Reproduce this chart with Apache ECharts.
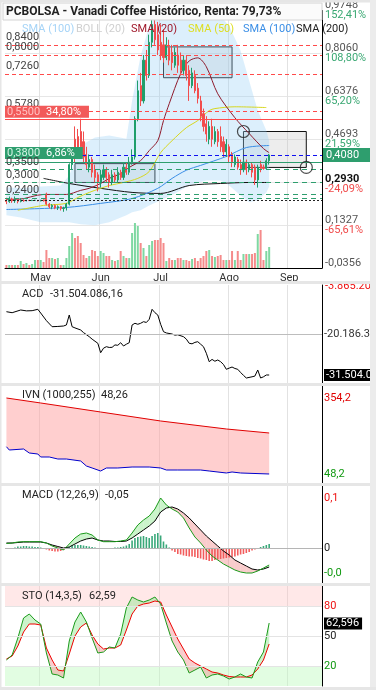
<!DOCTYPE html>
<html><head><meta charset="utf-8">
<script src="https://cdn.jsdelivr.net/npm/echarts@6/dist/echarts.min.js"></script>
<style>html,body{margin:0;padding:0;background:#fff}#c{width:376px;height:690px}</style>
</head><body><div id="c"></div>
<script>
// ---------- DATA ----------
const categories = Array.from({length: 111}, (_, i) => String(i));
const monthStarts = [12, 33, 54, 78, 99];
const monthNames = ['May', 'Jun', 'Jul', 'Ago', 'Sep'];

// [open, close, low, high]
const ohlc = [
[0.230,0.225,0.215,0.240],[0.225,0.235,0.220,0.245],[0.235,0.228,0.220,0.240],[0.228,0.232,0.220,0.245],[0.232,0.226,0.218,0.236],
[0.226,0.230,0.222,0.238],[0.230,0.228,0.224,0.234],[0.228,0.230,0.226,0.232],[0.230,0.229,0.227,0.232],[0.229,0.230,0.227,0.232],
[0.230,0.230,0.228,0.232],[0.230,0.228,0.226,0.231],[0.228,0.230,0.226,0.232],[0.232,0.228,0.225,0.234],[0.255,0.215,0.210,0.260],
[0.215,0.205,0.198,0.220],[0.205,0.210,0.195,0.215],[0.210,0.200,0.195,0.214],[0.200,0.205,0.192,0.210],[0.205,0.198,0.190,0.208],
[0.198,0.200,0.185,0.205],[0.200,0.215,0.190,0.220],[0.215,0.370,0.210,0.375],[0.370,0.400,0.350,0.420],[0.470,0.400,0.380,0.520],
[0.480,0.420,0.400,0.510],[0.500,0.440,0.430,0.550],[0.460,0.400,0.380,0.500],[0.410,0.370,0.350,0.440],[0.360,0.390,0.340,0.410],
[0.390,0.340,0.320,0.400],[0.350,0.320,0.300,0.370],[0.330,0.300,0.265,0.340],[0.300,0.330,0.280,0.350],[0.320,0.350,0.310,0.370],
[0.350,0.320,0.300,0.360],[0.330,0.300,0.280,0.340],[0.300,0.330,0.290,0.350],[0.330,0.310,0.300,0.340],[0.310,0.340,0.300,0.360],
[0.340,0.320,0.310,0.350],[0.320,0.360,0.310,0.380],[0.360,0.340,0.330,0.380],[0.340,0.380,0.330,0.400],[0.380,0.400,0.370,0.430],
[0.400,0.550,0.390,0.560],[0.550,0.660,0.540,0.700],[0.680,0.620,0.600,0.730],[0.620,0.780,0.610,0.800],[0.780,0.720,0.700,0.820],
[0.720,0.850,0.710,0.880],[0.850,0.920,0.830,0.960],[0.920,0.860,0.840,0.950],[0.880,0.820,0.800,0.930],[0.850,0.800,0.780,0.920],
[0.840,0.790,0.770,0.900],[0.790,0.840,0.780,0.870],[0.830,0.780,0.760,0.860],[0.810,0.770,0.740,0.840],[0.760,0.810,0.750,0.830],
[0.800,0.760,0.730,0.840],[0.780,0.740,0.720,0.810],[0.740,0.780,0.720,0.800],[0.780,0.720,0.700,0.800],[0.740,0.680,0.620,0.760],
[0.680,0.730,0.670,0.750],[0.720,0.660,0.650,0.740],[0.670,0.630,0.610,0.690],[0.620,0.560,0.540,0.640],[0.570,0.520,0.500,0.590],
[0.530,0.490,0.460,0.560],[0.470,0.520,0.450,0.540],[0.520,0.470,0.440,0.550],[0.460,0.500,0.450,0.520],[0.500,0.460,0.440,0.510],
[0.480,0.440,0.420,0.520],[0.460,0.420,0.400,0.480],[0.420,0.450,0.400,0.470],[0.440,0.400,0.380,0.450],[0.410,0.380,0.360,0.420],
[0.370,0.400,0.360,0.410],[0.390,0.360,0.350,0.400],[0.370,0.350,0.330,0.390],[0.350,0.380,0.340,0.390],[0.380,0.350,0.330,0.390],
[0.350,0.370,0.340,0.380],[0.370,0.340,0.320,0.380],[0.360,0.310,0.290,0.370],[0.310,0.360,0.280,0.370],[0.370,0.355,0.340,0.385],
[0.360,0.355,0.350,0.370],[0.355,0.385,0.350,0.395],[0.385,0.408,0.370,0.412]
];
const volume = [3,3,3,3,3,7,4,5,3,4, 8,8,8,6,18,10,10,9,10,3, 3,10,22,35,30,32,25,13,10,12,
  18,17,12,17,15,12,12,8,7,8, 17,12,10,10,35,45,42,25,20,12, 23,27,28,28,30,25,7,10,8,8,
  10,10,8,8,7,9,10,7,10,12, 17,18,12,11,12,13,8,8,8,17, 8,17,8,14,14,14,14,15,34,38, 8,17,21];

const sma20 = [[0,0.234],[4,0.234],[13,0.253],[21,0.253],[26,0.269],[29,0.277],[33,0.296],[36,0.316],[40,0.335],[43,0.359],[47,0.386],[50,0.425],[53,0.464],[55,0.543],[57,0.609],[61,0.727],[64,0.777],[67,0.789],[70,0.754],[74,0.648],[80,0.554],[85,0.492],[90,0.433],[92,0.417]];
const sma50 = [[4,0.191],[13,0.210],[21,0.218],[25,0.241],[29,0.261],[33,0.277],[36,0.288],[41,0.300],[46,0.316],[50,0.343],[54,0.417],[58,0.464],[63,0.515],[67,0.543],[71,0.582],[73,0.590],[80,0.597],[91,0.594]];
const sma100 = [[0,0.194],[21,0.202],[33,0.218],[44,0.237],[53,0.277],[58,0.316],[63,0.348],[68,0.367],[77,0.402],[84,0.437],[92,0.445]];
const sma200 = [[13,0.316],[22,0.296],[33,0.277],[44,0.261],[54,0.257],[64,0.288],[75,0.296],[85,0.300],[92,0.300]];
const bollUpper = [[0,0.281],[5,0.277],[12,0.284],[19,0.288],[22,0.327],[26,0.445],[31,0.476],[36,0.484],[42,0.472],[44,0.621],[47,0.797],[50,0.914],[54,0.99],[59,0.99],[64,0.99],[70,0.973],[75,0.953],[78,0.914],[82,0.817],[85,0.699],[88,0.582],[91,0.504],[92,0.464]];
const bollLower = [[0,0.171],[5,0.163],[12,0.144],[19,0.144],[22,0.144],[26,0.136],[31,0.132],[36,0.144],[42,0.171],[44,0.183],[47,0.191],[50,0.210],[54,0.230],[59,0.257],[64,0.288],[70,0.308],[75,0.308],[78,0.288],[82,0.249],[85,0.222],[88,0.230],[91,0.261],[92,0.284]];

const levelVals = [0.84, 0.80, 0.726, 0.578, 0.55, 0.408, 0.38, 0.35, 0.30, 0.252, 0.24, 0.23];
const levelText = ['0,8400','0,8000','0,7260','0,5780','0,5500','0,4080','0,3800','0,3500','0,3000','','0,2400',''];
const levelPct  = ['','','','','34,80%','','6,86%','','','','',''];
const sma200LastVal = 0.293;
const sma200LastText = ['0,2930', '-24,09%'];

const mainTickVals = [-0.0356, 0.1328, 0.3012, 0.4696, 0.6380, 0.8064, 0.9748];
const mainTickText = ['-0,0356','0,1327','','0,4693','0,6376','0,8060','0,9748'];
const mainTickPct  = ['','-65,61%','','21,59%','65,20%','108,80%','152,41%'];

const boxes = [[55,79,0.832,0.711],[24,52,0.374,0.300],[83,105,0.500,0.359]];
const circles = [[83,0.500],[105,0.359]];

const acd = [[0,-14.03],[2,-14.31],[5,-13.56],[7,-13.8],[9,-13.75],[11,-13.37],[12,-14.39],[14,-16.5],[16,-18.17],[18,-18.1],[20,-17.98],[21,-17.7],[22,-14.94],[23,-18.17],[24,-18.5],[26,-19.08],[27,-19.8],[29,-20.93],[30,-21.6],[32,-22.75],[33,-25.35],[34,-24.1],[35,-23.69],[36,-23.9],[37,-23.86],[38,-23.2],[39,-23.3],[40,-22.59],[41,-23.5],[42,-23.0],[43,-22.59],[44,-17.7],[45,-17.23],[46,-17.5],[47,-17.23],[48,-16.79],[49,-17.0],[50,-16.13],[51,-13.37],[52,-14.3],[53,-14.94],[54,-17.5],[55,-19.55],[56,-19.9],[58,-20.19],[59,-20.5],[60,-20.4],[62,-20.93],[63,-21.6],[64,-22.75],[65,-22.9],[66,-22.5],[67,-22.31],[68,-23.0],[69,-23.69],[70,-25.5],[71,-27.83],[72,-27.2],[73,-27.7],[74,-27.36],[75,-27.83],[76,-28.6],[77,-29.93],[78,-29.6],[79,-29.3],[80,-29.7],[81,-29.93],[82,-30.8],[83,-31.6],[84,-32.33],[86,-32.0],[87,-31.8],[88,-30.12],[89,-32.33],[90,-32.0],[91,-31.5],[92,-31.504]];
const acdMid = -20.186, acdMidText = '-20.186.349';
const acdLast = -31.504, acdLastText = '-31.504.086';
const acdTopText = '-3.865.208';

const ivnUpper = [[0,354.2],[12,334.1],[33,297.8],[54,261.6],[77,229.4],[92,213.3]];
const ivnLower = [[0,158.1],[1,144.8],[6,148.9],[8,132.8],[11,128.7],[12,116.7],[15,116.7],[18,108.6],[21,108.6],[26,100.6],[28,80.4],[30,72.4],[33,60.3],[35,72.4],[39,72.4],[44,76.4],[50,76.4],[54,72.4],[56,64.3],[60,64.3],[68,64.3],[71,60.3],[77,52.3],[79,56.3],[82,52.3],[92,48.26]];
const ivnMaxVal = 354.2, ivnMaxText = '354,2', ivnMinVal = 48.2, ivnMinText = '48,2';

const evenIdx = Array.from({length: 47}, (_, k) => 2 * k);
const macdLine = [0.009,0.010,0.012,0.0126,0.0126,0.0126,0.0126,0.010,0.004,0.0,-0.004,0.008,0.02,0.028,0.03,0.026,0.016,0.0126,0.0126,0.0126,0.014,0.016,0.03,0.046,0.056,0.064,0.078,0.1,0.086,0.078,0.072,0.06,0.04,0.022,0.01,-0.004,-0.016,-0.024,-0.032,-0.038,-0.044,-0.048,-0.05,-0.05,-0.046,-0.04,-0.034];
const macdSignal = [0.010,0.010,0.011,0.012,0.012,0.012,0.012,0.010,0.006,0.003,0.0,0.002,0.008,0.014,0.018,0.02,0.016,0.014,0.014,0.013,0.013,0.014,0.02,0.028,0.036,0.044,0.054,0.072,0.08,0.082,0.078,0.07,0.06,0.048,0.036,0.024,0.014,0.004,-0.006,-0.014,-0.024,-0.03,-0.036,-0.042,-0.044,-0.042,-0.038];
const macdHist = [-0.001,-0.001,-0.001,0.001,0.003,0.003,0.004,0.004,0.003,0.003,
 0.002,0.002,0.001,-0.001,-0.003,-0.005,-0.006,-0.007,-0.007,-0.006,
 -0.004,-0.001,0.002,0.005,0.006,0.006,0.006,0.005,0.004,0.003,
 0.002,0.001,-0.001,-0.002,-0.002,-0.001,-0.001,0.0,0.001,0.001,
 0.002,0.003,0.005,0.008,0.015,0.02,0.022,0.023,0.024,0.022,
 0.02,0.024,0.028,0.03,0.025,0.013,0.007,0.001,-0.005,-0.008,
 -0.012,-0.013,-0.015,-0.016,-0.017,-0.017,-0.018,-0.02,-0.021,-0.023,
 -0.024,-0.026,-0.026,-0.024,-0.023,-0.022,-0.021,-0.02,-0.019,-0.018,
 -0.017,-0.015,-0.013,-0.012,-0.01,-0.008,-0.005,-0.003,-0.001,0.002,
 0.004,0.006,0.008];
const macdMaxVal = 0.1, macdMaxText = '0,1', macdMinVal = -0.048, macdMinText = '-0,0';

const stoK = [26,31,48,68,72,66,62,33,12,11,8,45,64,74,64,48,33,34,39,38,52,78,89,86,84,86,89,82,63,45,34,26,13,16,19,8,11,12,10,7,9,12,9,8,24,34,63];
const stoD = [27,30,40,54,62,62,61,38,26,16,15,32,50,59,63,51,42,37,38,38,41,56,72,80,82,83,85,84,71,59,47,37,27,23,20,17,14,13,11,9.5,9,9,9,11,17,26,42];
const stoLastVal = 62.596, stoLastText = '62,596';
const stoLevels = [80, 50, 20];

// ---------- HELPERS ----------
const FONT = 'Roboto, "Noto Sans", sans-serif';
const GREEN = '#1f9e6b', RED = '#f24d4d';
const HIDDEN_LINE = {color: 'rgba(0,0,0,0)', width: 0.01, type: 'solid'};

function xAxisFor(gi, showLabels) {
  return {
    type: 'category', gridIndex: gi, data: categories, boundaryGap: true,
    axisLine: {show: gi === 1, onZero: false, lineStyle: {color: '#000', width: 1}},
    axisTick: {show: false},
    axisLabel: {show: showLabels, interval: (i) => monthStarts.includes(i),
      formatter: (v, i) => { const k = monthStarts.indexOf(i); return k >= 0 ? monthNames[k] : ''; },
      color: '#333', fontSize: 11, margin: 5, fontFamily: FONT},
    splitLine: {show: true, interval: (i) => monthStarts.includes(i), lineStyle: {color: '#e2e2e2', width: 1}}
  };
}
function yAxisFor(gi, min, max, extra) {
  return Object.assign({
    type: 'value', gridIndex: gi, position: 'right', min: min, max: max, scale: false,
    axisLine: {show: true, lineStyle: {color: '#000', width: 1}},
    axisTick: {show: false}, axisLabel: {show: false}, splitLine: {show: false}
  }, extra || {});
}
function polyBand(upper, lower, color, xi, yi, z) {
  return {
    type: 'custom', xAxisIndex: xi, yAxisIndex: yi, clip: true, silent: true, z: z,
    data: [[upper[0][0], upper[0][1]]], encode: {x: 0, y: 1},
    renderItem: function (params, api) {
      if (params.dataIndex !== 0) return null;
      const pts = upper.map(p => api.coord([p[0], p[1]]))
        .concat(lower.slice().reverse().map(p => api.coord([p[0], p[1]])));
      return {type: 'polygon', shape: {points: pts}, style: {fill: color}};
    }
  };
}
function diffBand(xs, a, b, upColor, downColor, xi, yi) {
  const data = [];
  for (let k = 0; k < xs.length - 1; k++) data.push([xs[k], a[k], b[k], xs[k + 1], a[k + 1], b[k + 1]]);
  return {
    type: 'custom', xAxisIndex: xi, yAxisIndex: yi, clip: true, silent: true, z: 1,
    data: data, encode: {x: [0, 3], y: [1, 2, 4, 5]},
    renderItem: function (params, api) {
      const x0 = api.value(0), a0 = api.value(1), b0 = api.value(2);
      const x1 = api.value(3), a1 = api.value(4), b1 = api.value(5);
      const A0 = api.coord([x0, a0]), B0 = api.coord([x0, b0]);
      const A1 = api.coord([x1, a1]), B1 = api.coord([x1, b1]);
      const d0 = a0 - b0, d1 = a1 - b1;
      if (d0 * d1 >= 0) {
        return {type: 'polygon', shape: {points: [A0, A1, B1, B0]}, style: {fill: (d0 + d1) >= 0 ? upColor : downColor}};
      }
      const t = d0 / (d0 - d1);
      const M = [A0[0] + t * (A1[0] - A0[0]), A0[1] + t * (A1[1] - A0[1])];
      return {type: 'group', children: [
        {type: 'polygon', shape: {points: [A0, M, B0]}, style: {fill: d0 > 0 ? upColor : downColor}},
        {type: 'polygon', shape: {points: [M, A1, B1]}, style: {fill: d1 > 0 ? upColor : downColor}}
      ]};
    }
  };
}
function pairs(xs, ys) { return xs.map((x, k) => [x, ys[k]]); }
function sideLabel(val, text, color, bg, line) {
  return {
    yAxis: val,
    lineStyle: line || HIDDEN_LINE,
    label: {show: true, position: 'end', distance: 2, formatter: text, color: color, fontSize: 11,
      fontFamily: FONT, backgroundColor: bg || 'transparent', padding: bg ? [1, 3, 0, 2] : 0, lineHeight: 11}
  };
}

// ---------- MAIN LEVEL LINES ----------
const dashRed = {color: '#ff4a4a', type: [4, 3], width: 1};
const solidRed = {color: '#ff4a4a', type: 'solid', width: 1};
const dashBlue = {color: '#1010f0', type: [4, 3], width: 1};
const solidGreen = {color: '#2e9e6e', type: 'solid', width: 1};
const dashGreen = {color: '#2e9e6e', type: [5, 4], width: 1};
const dotBlack = {color: '#222', type: [2, 2], width: 1};
const levelStyles = [dashRed, dashRed, dashRed, dashRed, solidRed, dashBlue, solidGreen, dashGreen, dashGreen, dashGreen, dashGreen, dotBlack];

const levelLines = levelVals.map((v, k) => {
  const item = {yAxis: v, lineStyle: levelStyles[k], label: {show: false}};
  if (k === 5) {
    item.label = {show: true, position: 'end', distance: 1, formatter: levelText[k], color: '#fff',
      backgroundColor: '#2e9e6e', padding: [2, 14, 1, 3], fontSize: 11, fontFamily: FONT};
  } else if (levelPct[k]) {
    const bg = k === 4 ? '#f25a5a' : '#2e9e6e';
    const lc = k === 4 ? '#ffc0c0' : '#d8f5e6';
    item.label = {show: true, position: 'insideStartTop', distance: [0, k === 4 ? 1 : 3],
      formatter: '{a|' + levelText[k] + '}  {b|' + levelPct[k] + '}',
      backgroundColor: bg, padding: [0, 8, 0, 2], fontFamily: FONT,
      rich: {a: {color: lc, fontSize: 11, lineHeight: 10, fontFamily: FONT}, b: {color: '#fff', fontSize: 11, lineHeight: 10, fontFamily: FONT}}};
  } else if (levelText[k]) {
    item.label = {show: true, position: 'insideStartTop', distance: [1, 2], formatter: levelText[k],
      color: '#444', fontSize: 11, fontFamily: FONT};
  }
  return item;
});
levelLines.push({
  yAxis: sma200LastVal, lineStyle: HIDDEN_LINE,
  label: {show: true, position: 'end', distance: 3,
    formatter: '{b|' + sma200LastText[0] + '}\n{n|' + sma200LastText[1] + '}',
    rich: {b: {color: '#111', fontSize: 11, lineHeight: 10, fontFamily: FONT, fontWeight: 'bold'},
           n: {color: '#f04a4a', fontSize: 11, lineHeight: 10, fontFamily: FONT}}}
});

function nearestTick(v) {
  let best = 0;
  for (let k = 1; k < mainTickVals.length; k++) if (Math.abs(mainTickVals[k] - v) < Math.abs(mainTickVals[best] - v)) best = k;
  return Math.abs(mainTickVals[best] - v) < 0.02 ? best : -1;
}

// ---------- OPTION ----------
const chart = echarts.init(document.getElementById('c'), null, {renderer: 'canvas'});
const option = {
  animation: false,
  textStyle: {fontFamily: FONT},
  grid: [
    {left: 5, top: 9.5, width: 317, height: 258.5},
    {left: 5, top: 218, width: 317, height: 50},
    {left: 5, top: 285, width: 317, height: 98},
    {left: 5, top: 386, width: 317, height: 97},
    {left: 5, top: 486, width: 317, height: 97},
    {left: 5, top: 586, width: 317, height: 100}
  ],
  xAxis: [xAxisFor(0, false), xAxisFor(1, true), xAxisFor(2, false), xAxisFor(3, false), xAxisFor(4, false), xAxisFor(5, false)],
  yAxis: [
    yAxisFor(0, -0.0356, 0.9748, {
      interval: 0.1684,
      splitLine: {show: true, lineStyle: {color: '#e6e6e6'}},
      axisLabel: {show: true, margin: 3, showMinLabel: true, showMaxLabel: true,
        formatter: function (v) {
          const k = nearestTick(v);
          if (k < 0 || !mainTickText[k]) return '';
          const pct = mainTickPct[k];
          return '{v|' + mainTickText[k] + '}\n' + (pct ? ('{' + (pct[0] === '-' ? 'n' : 'p') + '|' + pct + '}') : '{v| }');
        },
        rich: {v: {color: '#555', fontSize: 11, lineHeight: 10, fontFamily: FONT},
               p: {color: '#3aa873', fontSize: 11, lineHeight: 10, fontFamily: FONT},
               n: {color: '#f04a4a', fontSize: 11, lineHeight: 10, fontFamily: FONT}}}
    }),
    {type: 'value', gridIndex: 1, min: 0, max: 50, show: false},
    yAxisFor(2, -33.71, -6.66),
    yAxisFor(3, 12, 402.5),
    yAxisFor(4, -0.07, 0.124),
    yAxisFor(5, 0, 100)
  ],
  series: [
    polyBand(bollUpper, bollLower, 'rgba(150,205,245,0.33)', 0, 0, 1),
    {type: 'line', xAxisIndex: 0, yAxisIndex: 0, data: sma200, smooth: 0.3, showSymbol: false, z: 2, silent: true,
     lineStyle: {color: '#111', width: 1}},
    {type: 'line', xAxisIndex: 0, yAxisIndex: 0, data: sma100, smooth: 0.3, showSymbol: false, z: 2, silent: true,
     lineStyle: {color: '#3a8ee6', width: 1}},
    {type: 'line', xAxisIndex: 0, yAxisIndex: 0, data: sma50, smooth: 0.3, showSymbol: false, z: 2, silent: true,
     lineStyle: {color: '#d6d61e', width: 1}},
    {type: 'line', xAxisIndex: 0, yAxisIndex: 0, data: sma20, smooth: 0.3, showSymbol: false, z: 2, silent: true,
     lineStyle: {color: '#8e1a2c', width: 1}},
    {type: 'candlestick', xAxisIndex: 0, yAxisIndex: 0, data: ohlc, barWidth: 1.6, z: 3,
     itemStyle: {color: GREEN, color0: RED, borderColor: GREEN, borderColor0: RED, borderWidth: 1},
     markLine: {symbol: 'none', silent: true, precision: 4, data: levelLines}},
    {type: 'scatter', xAxisIndex: 0, yAxisIndex: 0, data: circles.map(c => [String(c[0]), c[1]]), symbol: 'circle', symbolSize: 12,
     z: 6, silent: true, itemStyle: {color: 'rgba(0,0,0,0)', borderColor: '#222', borderWidth: 1.2},
     markArea: {silent: true, itemStyle: {color: 'rgba(190,190,190,0.28)', borderColor: '#111', borderWidth: 1},
       data: boxes.map(b => [{xAxis: String(b[0]), yAxis: b[2]}, {xAxis: String(b[1]), yAxis: b[3]}])}},
    {type: 'bar', xAxisIndex: 1, yAxisIndex: 1, data: volume, barWidth: 2, z: 2, silent: true,
     itemStyle: {color: (p) => (ohlc[p.dataIndex][1] >= ohlc[p.dataIndex][0] ? '#7fd8a2' : '#f58b8b')}},
    {type: 'line', xAxisIndex: 2, yAxisIndex: 2, data: acd, showSymbol: false, silent: true,
     lineStyle: {color: '#000', width: 1},
     markLine: {symbol: 'none', silent: true, data: [
       sideLabel(acdMid, acdMidText, '#333', null, {color: '#bdbdbd', type: 'solid', width: 1}),
       sideLabel(acdLast, acdLastText, '#fff', '#000')
     ]}},
    polyBand(ivnUpper, ivnLower, 'rgba(255,160,160,0.5)', 3, 3, 1),
    {type: 'line', xAxisIndex: 3, yAxisIndex: 3, data: ivnUpper, showSymbol: false, silent: true, z: 3,
     lineStyle: {color: '#e00000', width: 1},
     markLine: {symbol: 'none', silent: true, data: [
       sideLabel(ivnMaxVal, ivnMaxText, '#e00000'),
       sideLabel(ivnMinVal, ivnMinText, '#119911')
     ]}},
    {type: 'line', xAxisIndex: 3, yAxisIndex: 3, data: ivnLower, showSymbol: false, silent: true, z: 3,
     lineStyle: {color: '#0000cc', width: 1}},
    {type: 'bar', xAxisIndex: 4, yAxisIndex: 4, data: macdHist, barWidth: 1.6, silent: true, z: 2,
     itemStyle: {color: (p) => (p.value >= 0 ? '#3aa87a' : '#f25c5c')},
     markLine: {symbol: 'none', silent: true, data: [
       sideLabel(macdMaxVal, macdMaxText, '#ee1111'),
       sideLabel(0, '0', '#222', null, {color: '#b5b5b5', type: 'solid', width: 1}),
       sideLabel(macdMinVal, macdMinText, '#119911')
     ]}},
    diffBand(evenIdx, macdLine, macdSignal, 'rgba(140,230,140,0.45)', 'rgba(240,120,120,0.38)', 4, 4),
    {type: 'line', xAxisIndex: 4, yAxisIndex: 4, data: pairs(evenIdx, macdSignal), showSymbol: false, silent: true, z: 3,
     lineStyle: {color: '#000', width: 1}},
    {type: 'line', xAxisIndex: 4, yAxisIndex: 4, data: pairs(evenIdx, macdLine), showSymbol: false, silent: true, z: 3,
     lineStyle: {color: '#1a9a1a', width: 1}},
    {type: 'line', xAxisIndex: 5, yAxisIndex: 5, data: [], silent: true, z: 0,
     markArea: {silent: true, data: [
       [{yAxis: stoLevels[0], itemStyle: {color: 'rgba(255,190,190,0.35)'}}, {yAxis: 100}],
       [{yAxis: 0, itemStyle: {color: 'rgba(190,250,190,0.45)'}}, {yAxis: stoLevels[2]}]
     ]},
     markLine: {symbol: 'none', silent: true, data: [
       sideLabel(stoLevels[0], String(stoLevels[0]), '#ee1111', null, {color: '#e4e4e4', type: 'solid', width: 1}),
       sideLabel(stoLevels[1], String(stoLevels[1]), '#222', null, {color: '#e4e4e4', type: 'solid', width: 1}),
       sideLabel(stoLevels[2], String(stoLevels[2]), '#119911', null, {color: '#e4e4e4', type: 'solid', width: 1}),
       sideLabel(stoLastVal, stoLastText, '#fff', '#000')
     ]}},
    diffBand(evenIdx, stoK, stoD, 'rgba(140,230,140,0.45)', 'rgba(240,120,120,0.38)', 5, 5),
    {type: 'line', xAxisIndex: 5, yAxisIndex: 5, data: pairs(evenIdx, stoD), showSymbol: false, silent: true, z: 3,
     lineStyle: {color: '#ee0000', width: 1}},
    {type: 'line', xAxisIndex: 5, yAxisIndex: 5, data: pairs(evenIdx, stoK), showSymbol: false, silent: true, z: 3,
     lineStyle: {color: '#1a9a1a', width: 1}}
  ],
  graphic: [
    {type: 'rect', shape: {x: 3, y: 3, width: 319, height: 17}, style: {fill: '#fbfbfb', stroke: '#d4d4d4', lineWidth: 1}, z: 50},
    {type: 'text', x: 6, y: 12, style: {text: 'PCBOLSA - Vanadi Coffee Histórico, Renta: 79,73%', fill: '#222',
      font: 'bold 12px ' + FONT, textVerticalAlign: 'middle'}, z: 51},
    {type: 'text', x: 22, y: 29, style: {text: 'SMA (100)', fill: '#a6d4f7', font: '11px ' + FONT, textVerticalAlign: 'middle'}, z: 51},
    {type: 'text', x: 76, y: 29, style: {text: 'BOLL (20)', fill: '#cfcfcf', font: '11px ' + FONT, textVerticalAlign: 'middle'}, z: 51},
    {type: 'text', x: 131, y: 29, style: {text: 'SMA (20)', fill: '#a0182a', font: '11px ' + FONT, textVerticalAlign: 'middle'}, z: 51},
    {type: 'text', x: 188, y: 29, style: {text: 'SMA (50)', fill: '#dede22', font: '11px ' + FONT, textVerticalAlign: 'middle'}, z: 51},
    {type: 'text', x: 243, y: 29, style: {text: 'SMA (100)', fill: '#3c8fe6', font: '11px ' + FONT, textVerticalAlign: 'middle'}, z: 51},
    {type: 'text', x: 296, y: 29, style: {text: 'SMA (200)', fill: '#222', font: '11px ' + FONT, textVerticalAlign: 'middle'}, z: 51},
    {type: 'text', x: 325, y: 286, style: {text: acdTopText, fill: '#ee1111', font: '11px ' + FONT, textVerticalAlign: 'middle'}, z: 40},
    {type: 'text', x: 22, y: 294, style: {text: 'ACD', fill: '#222', font: '11px ' + FONT, textVerticalAlign: 'middle'}, z: 51},
    {type: 'text', x: 50, y: 294, style: {text: '-31.504.086,16', fill: '#222', font: '11px ' + FONT, textVerticalAlign: 'middle'}, z: 51},
    {type: 'text', x: 22, y: 395, style: {text: 'IVN (1000,255)', fill: '#222', font: '11px ' + FONT, textVerticalAlign: 'middle'}, z: 51},
    {type: 'text', x: 101, y: 395, style: {text: '48,26', fill: '#222', font: '11px ' + FONT, textVerticalAlign: 'middle'}, z: 51},
    {type: 'text', x: 22, y: 495, style: {text: 'MACD (12,26,9)', fill: '#222', font: '11px ' + FONT, textVerticalAlign: 'middle'}, z: 51},
    {type: 'text', x: 105, y: 495, style: {text: '-0,05', fill: '#222', font: '11px ' + FONT, textVerticalAlign: 'middle'}, z: 51},
    {type: 'text', x: 22, y: 596, style: {text: 'STO (14,3,5)', fill: '#222', font: '11px ' + FONT, textVerticalAlign: 'middle'}, z: 51},
    {type: 'text', x: 89, y: 596, style: {text: '62,59', fill: '#222', font: '11px ' + FONT, textVerticalAlign: 'middle'}, z: 51},
    {type: 'rect', shape: {x: 0, y: 281, width: 370, height: 3}, style: {fill: '#e6e6e6'}, z: 60},
    {type: 'rect', shape: {x: 0, y: 383, width: 370, height: 3}, style: {fill: '#e6e6e6'}, z: 60},
    {type: 'rect', shape: {x: 0, y: 483, width: 370, height: 3}, style: {fill: '#e6e6e6'}, z: 60},
    {type: 'rect', shape: {x: 0, y: 583, width: 370, height: 3}, style: {fill: '#e6e6e6'}, z: 60},
    {type: 'rect', shape: {x: 0, y: 0, width: 376, height: 2.5}, style: {fill: '#e6e6e6'}, z: 60},
    {type: 'rect', shape: {x: 370, y: 0, width: 6, height: 690}, style: {fill: '#ececec'}, z: 60},
    {type: 'rect', shape: {x: 0, y: 0, width: 1.5, height: 690}, style: {fill: '#e6e6e6'}, z: 60},
    {type: 'rect', shape: {x: 0, y: 687, width: 376, height: 3}, style: {fill: '#e6e6e6'}, z: 60}
  ]
};
chart.setOption(option);
</script></body></html>
